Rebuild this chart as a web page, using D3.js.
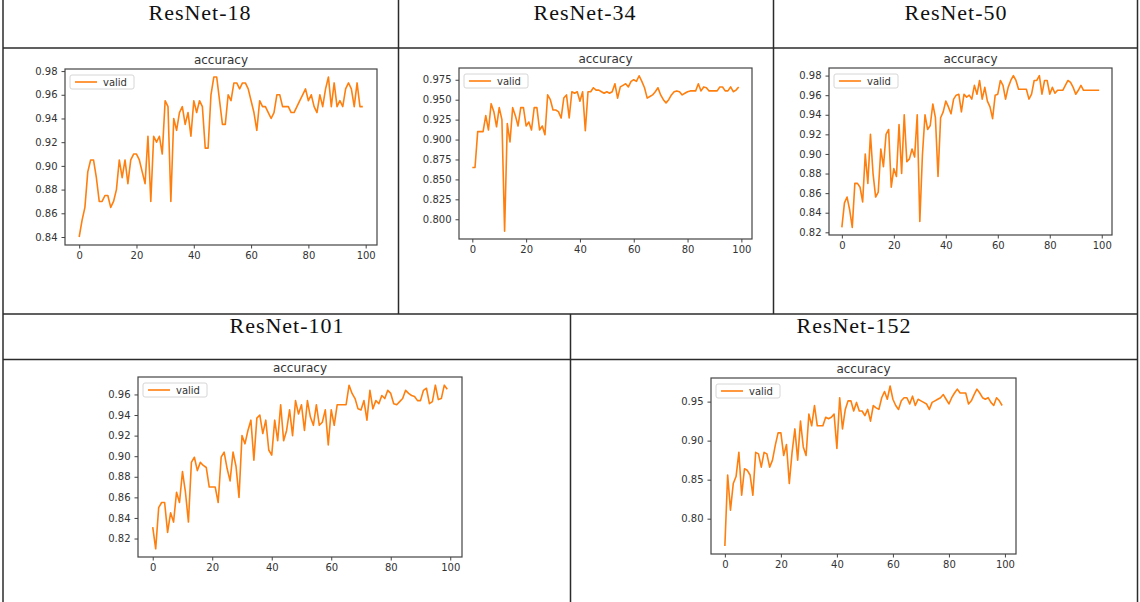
<!DOCTYPE html>
<html>
<head>
<meta charset="utf-8">
<script src="https://cdn.jsdelivr.net/npm/d3@7"></script>
<style>
body { margin: 0; background: #fff; }
svg text { font-family: "DejaVu Sans", sans-serif; }
</style>
</head>
<body>
<div id="chart"></div>
<script>
// ---- data ----
var modelNames = ["ResNet-18", "ResNet-34", "ResNet-50", "ResNet-101", "ResNet-152"];
var plotTitle = "accuracy";
var legendLabel = "valid";
var xTicks = [0, 20, 40, 60, 80, 100];

var acc18 = [0.84,0.854,0.865,0.895,0.905,0.905,0.89,0.87,0.87,0.875,
  0.875,0.865,0.87,0.88,0.905,0.89,0.905,0.885,0.905,0.91,
  0.91,0.905,0.895,0.885,0.925,0.87,0.925,0.92,0.925,0.91,
  0.955,0.95,0.87,0.94,0.93,0.945,0.95,0.935,0.945,0.925,
  0.955,0.945,0.955,0.95,0.915,0.915,0.96,0.975,0.975,0.955,
  0.935,0.935,0.96,0.955,0.97,0.97,0.965,0.97,0.97,0.965,
  0.955,0.945,0.93,0.955,0.95,0.95,0.945,0.94,0.945,0.96,
  0.96,0.95,0.95,0.95,0.945,0.945,0.95,0.955,0.96,0.965,
  0.955,0.96,0.95,0.945,0.96,0.95,0.965,0.975,0.95,0.97,
  0.95,0.955,0.95,0.965,0.97,0.965,0.95,0.97,0.95,0.95];

var acc34 = [0.865,0.865,0.91,0.91,0.91,0.93,0.912,0.945,0.935,0.916,
  0.94,0.925,0.785,0.92,0.897,0.94,0.93,0.917,0.94,0.94,
  0.917,0.922,0.912,0.94,0.94,0.912,0.917,0.906,0.956,0.95,
  0.937,0.937,0.935,0.927,0.952,0.956,0.927,0.96,0.958,0.96,
  0.948,0.96,0.911,0.96,0.96,0.965,0.962,0.962,0.96,0.958,
  0.96,0.958,0.96,0.97,0.952,0.966,0.968,0.97,0.966,0.973,
  0.975,0.973,0.98,0.973,0.965,0.952,0.954,0.956,0.96,0.965,
  0.956,0.95,0.946,0.95,0.956,0.96,0.961,0.96,0.956,0.958,
  0.96,0.961,0.961,0.961,0.97,0.961,0.966,0.965,0.961,0.961,
  0.961,0.961,0.966,0.966,0.961,0.961,0.966,0.96,0.962,0.966];

var acc50 = [0.825,0.85,0.856,0.843,0.825,0.87,0.87,0.866,0.851,0.9,
  0.87,0.92,0.88,0.856,0.861,0.905,0.887,0.92,0.925,0.866,
  0.885,0.877,0.93,0.88,0.94,0.892,0.895,0.905,0.897,0.94,
  0.831,0.899,0.94,0.925,0.929,0.951,0.937,0.877,0.937,0.943,
  0.954,0.948,0.941,0.956,0.96,0.961,0.943,0.961,0.958,0.96,
  0.956,0.97,0.961,0.975,0.956,0.968,0.954,0.948,0.936,0.96,
  0.961,0.975,0.97,0.956,0.968,0.975,0.98,0.975,0.966,0.966,
  0.966,0.966,0.956,0.961,0.975,0.975,0.98,0.961,0.975,0.975,
  0.961,0.968,0.962,0.965,0.965,0.965,0.97,0.975,0.973,0.968,
  0.961,0.965,0.97,0.965,0.965,0.965,0.965,0.965,0.965,0.965];

var acc101 = [0.831,0.81,0.85,0.855,0.855,0.826,0.845,0.836,0.865,0.855,
  0.885,0.865,0.836,0.894,0.899,0.886,0.894,0.891,0.889,0.87,
  0.87,0.87,0.855,0.899,0.904,0.888,0.876,0.904,0.89,0.86,
  0.92,0.912,0.925,0.935,0.896,0.937,0.94,0.922,0.935,0.906,
  0.901,0.935,0.915,0.95,0.915,0.925,0.945,0.92,0.954,0.941,
  0.95,0.925,0.954,0.938,0.93,0.95,0.93,0.933,0.945,0.911,
  0.945,0.93,0.95,0.95,0.95,0.95,0.969,0.961,0.956,0.946,
  0.945,0.954,0.935,0.964,0.946,0.954,0.951,0.959,0.956,0.964,
  0.961,0.951,0.95,0.953,0.956,0.964,0.961,0.959,0.958,0.954,
  0.954,0.964,0.966,0.951,0.953,0.969,0.955,0.956,0.969,0.965];

var acc152 = [0.765,0.856,0.811,0.845,0.854,0.885,0.83,0.864,0.862,0.856,
  0.83,0.885,0.883,0.866,0.885,0.883,0.866,0.875,0.894,0.91,
  0.91,0.881,0.895,0.845,0.885,0.915,0.875,0.925,0.892,0.881,
  0.934,0.919,0.945,0.919,0.919,0.919,0.93,0.928,0.93,0.934,
  0.89,0.955,0.915,0.94,0.951,0.951,0.938,0.949,0.938,0.938,
  0.932,0.94,0.925,0.945,0.942,0.94,0.955,0.963,0.953,0.97,
  0.953,0.945,0.94,0.951,0.955,0.955,0.947,0.957,0.945,0.953,
  0.951,0.949,0.947,0.94,0.949,0.951,0.953,0.955,0.959,0.953,
  0.947,0.955,0.961,0.966,0.961,0.961,0.961,0.947,0.951,0.959,
  0.966,0.961,0.955,0.953,0.955,0.949,0.945,0.955,0.951,0.945];

var yTicks18 = [0.84,0.86,0.88,0.90,0.92,0.94,0.96,0.98];
var yTicks34 = [0.800,0.825,0.850,0.875,0.900,0.925,0.950,0.975];
var yTicks50 = [0.82,0.84,0.86,0.88,0.90,0.92,0.94,0.96,0.98];
var yTicks101 = [0.82,0.84,0.86,0.88,0.90,0.92,0.94,0.96];
var yTicks152 = [0.80,0.85,0.90,0.95];

// ---- layout ----
var W = 1140, H = 602;
var lineColor = "#ff7f0e";
var inkColor = "#333";

var svg = d3.select("#chart").append("svg")
  .attr("width", W)
  .attr("height", H)
  .style("background", "#fff");

// table grid
var gridLines = [
  [3, 0, 3, H], [1137.5, 0, 1137.5, H],
  [3, 48, 1137.5, 48], [3, 314, 1137.5, 314], [3, 359.5, 1137.5, 359.5],
  [398.5, 0, 398.5, 314], [773.5, 0, 773.5, 314],
  [570.5, 314, 570.5, H]
];
svg.append("g").attr("class", "grid")
  .selectAll("line")
  .data(gridLines)
  .enter()
  .append("line")
  .attr("x1", function(d){ return d[0]; })
  .attr("y1", function(d){ return d[1]; })
  .attr("x2", function(d){ return d[2]; })
  .attr("y2", function(d){ return d[3]; })
  .style("stroke", "#2b2b2b")
  .style("stroke-width", 1.5);

// cells: header centre + axes frame (left, top, right, bottom)
var panels = [
  {cx: 200, ty: 20, frame: [65, 69, 377, 245], values: acc18, yTicks: yTicks18, fmt: ".2f"},
  {cx: 585, ty: 20, frame: [459, 68, 752, 239], values: acc34, yTicks: yTicks34, fmt: ".3f"},
  {cx: 956, ty: 20, frame: [829, 68, 1112, 235], values: acc50, yTicks: yTicks50, fmt: ".2f"},
  {cx: 287, ty: 333, frame: [138, 377, 462, 557], values: acc101, yTicks: yTicks101, fmt: ".2f"},
  {cx: 854, ty: 333, frame: [711, 378, 1016, 554], values: acc152, yTicks: yTicks152, fmt: ".2f"}
];

panels.forEach(function(p, k){
  svg.append("text")
    .attr("x", p.cx)
    .attr("y", p.ty)
    .attr("text-anchor", "middle")
    .style("font-family", "'Liberation Serif', 'Times New Roman', serif")
    .style("font-size", "22px")
    .style("letter-spacing", "1px")
    .style("fill", "#111")
    .text(modelNames[k]);
  accuracyPlot(svg, p);
});

function accuracyPlot(svg, p){
  var f = p.frame;
  var vals = p.values;
  var n = vals.length;

  // matplotlib style 5% margins
  var xPad = (n - 1) * 0.05;
  var ext = d3.extent(vals);
  var yPad = (ext[1] - ext[0]) * 0.05;

  var x = d3.scaleLinear()
    .domain([-xPad, n - 1 + xPad])
    .range([f[0], f[2]]);
  var y = d3.scaleLinear()
    .domain([ext[0] - yPad, ext[1] + yPad])
    .range([f[3], f[1]]);

  var g = svg.append("g").attr("class", "plot");

  g.append("rect")
    .attr("x", f[0])
    .attr("y", f[1])
    .attr("width", f[2] - f[0])
    .attr("height", f[3] - f[1])
    .style("fill", "none")
    .style("stroke", "#444")
    .style("stroke-width", 1.2);

  var xAxis = g.append("g")
    .attr("transform", "translate(0," + f[3] + ")")
    .call(d3.axisBottom(x).tickValues(xTicks).tickSize(3.5).tickPadding(3).tickFormat(d3.format("d")));
  var yAxis = g.append("g")
    .attr("transform", "translate(" + f[0] + ",0)")
    .call(d3.axisLeft(y).tickValues(p.yTicks).tickSize(3.5).tickPadding(4).tickFormat(d3.format(p.fmt)));

  [xAxis, yAxis].forEach(function(a){
    a.select(".domain").remove();
    a.selectAll("line").style("stroke", "#444");
    a.selectAll("text")
      .style("font-family", "'DejaVu Sans', sans-serif")
      .style("font-size", "10px")
      .style("fill", inkColor);
  });

  var line = d3.line()
    .x(function(d, i){ return x(i); })
    .y(function(d){ return y(d); });

  g.append("path")
    .datum(vals)
    .attr("d", line)
    .style("fill", "none")
    .style("stroke", lineColor)
    .style("stroke-width", 1.6)
    .style("stroke-linejoin", "round");

  g.append("text")
    .attr("x", (f[0] + f[2]) / 2)
    .attr("y", f[1] - 5)
    .attr("text-anchor", "middle")
    .style("font-size", "12px")
    .style("fill", inkColor)
    .text(plotTitle);

  // legend
  var lg = g.append("g")
    .attr("transform", "translate(" + (f[0] + 5) + "," + (f[1] + 6) + ")");
  lg.append("rect")
    .attr("width", 64)
    .attr("height", 14)
    .attr("rx", 2)
    .style("fill", "#fff")
    .style("fill-opacity", 0.8)
    .style("stroke", "#d6d6d6")
    .style("stroke-width", 1);
  lg.append("line")
    .attr("x1", 5)
    .attr("x2", 27)
    .attr("y1", 7)
    .attr("y2", 7)
    .style("stroke", lineColor)
    .style("stroke-width", 1.6);
  lg.append("text")
    .attr("x", 33)
    .attr("y", 7)
    .attr("dy", "0.35em")
    .style("font-size", "10px")
    .style("fill", inkColor)
    .text(legendLabel);
}
</script>
</body>
</html>
